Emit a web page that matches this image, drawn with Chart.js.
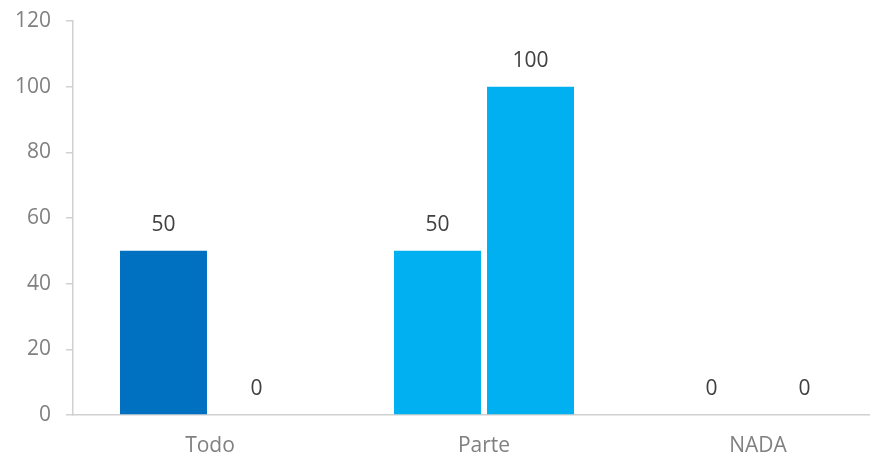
<!DOCTYPE html>
<html>
<head>
<meta charset="utf-8">
<script src="https://cdn.jsdelivr.net/npm/chart.js@4/dist/chart.umd.min.js"></script>
<style>
html,body{margin:0;padding:0;background:#fff;overflow:hidden;width:870px;height:456px;}
canvas{display:block;}
</style>
</head>
<body>
<canvas id="c" width="896" height="456"></canvas>
<script>
const categories = ["Todo", "Parte", "NADA"];
const series1 = [50, 50, 0];
const series2 = [0, 100, 0];
const yTicks = [0, 20, 40, 60, 80, 100, 120];

const dark = "#0070C0";
const light = "#00B0F0";
const FONT = "'Open Sans', 'Noto Sans', sans-serif";

const valueLabels = {
  id: "valueLabels",
  afterDatasetsDraw(chart) {
    const ctx = chart.ctx;
    ctx.save();
    ctx.font = "21px " + FONT;
    ctx.fillStyle = "#404040";
    ctx.textAlign = "center";
    ctx.textBaseline = "middle";
    chart.data.datasets.forEach((ds, i) => {
      const meta = chart.getDatasetMeta(i);
      meta.data.forEach((el, j) => {
        ctx.fillText(String(ds.data[j]), el.x, el.y - 26);
      });
    });
    ctx.restore();
  }
};

new Chart(document.getElementById("c"), {
  type: "bar",
  data: {
    labels: categories,
    datasets: [
      { label: "Serie 1", data: series1, backgroundColor: [dark, light, light] },
      { label: "Serie 2", data: series2, backgroundColor: light }
    ]
  },
  options: {
    responsive: false,
    devicePixelRatio: 1,
    animation: false,
    categoryPercentage: 0.679,
    barPercentage: 0.935,
    layout: { padding: { left: 0, top: 21, right: 1, bottom: 0 } },
    plugins: { legend: { display: false }, tooltip: { enabled: false } },
    scales: {
      x: {
        grid: { display: false, drawTicks: false },
        border: { display: true, color: "#d0d0d0", width: 1.5 },
        ticks: { color: "#808080", font: { family: FONT, size: 21 }, padding: 18 },
        afterFit(scale) { scale.height = 41; }
      },
      y: {
        min: 0,
        max: 120,
        afterBuildTicks(scale) { scale.ticks = yTicks.map(v => ({ value: v })); },
        grid: { drawOnChartArea: false, drawTicks: true, tickLength: 7, color: "#d0d0d0", lineWidth: 1.5 },
        border: { display: true, color: "#d0d0d0", width: 1.5 },
        ticks: { color: "#808080", font: { family: FONT, size: 21 }, padding: 15 },
        afterFit(scale) { scale.width = 73; scale.paddingTop = 0; scale.paddingBottom = 0; }
      }
    }
  },
  plugins: [valueLabels]
});
</script>
</body>
</html>
